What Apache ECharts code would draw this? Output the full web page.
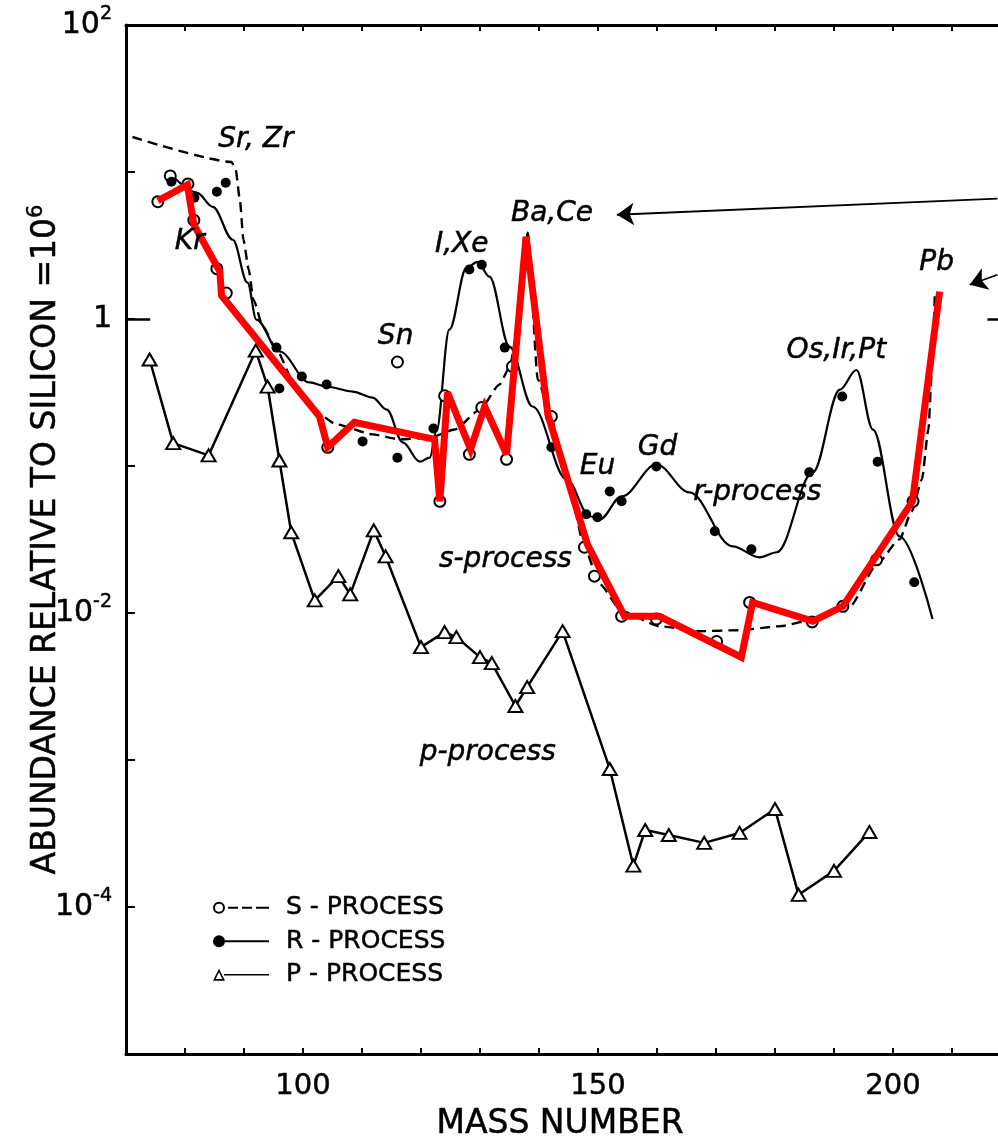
<!DOCTYPE html>
<html>
<head>
<meta charset="utf-8">
<script src="https://cdn.jsdelivr.net/npm/echarts@6/dist/echarts.min.js"></script>
<style>
  html, body { margin: 0; padding: 0; background: #fff; }
  #chart { width: 998px; height: 1141px; }
</style>
</head>
<body>
<div id="chart"></div>
<script>
// ---- s-process: measured abundances (open circles) ----
const sMass  = [75.4, 77.5, 80.5, 81.5, 85.4, 87.0, 104.2, 116.0, 123.2, 124.0, 128.2, 130.3, 134.5, 135.5, 142.1, 147.7, 149.4, 154.0, 159.9, 170.1, 175.7, 186.3, 191.5, 197.2, 203.4];
const sAbund = [6.28, 9.4, 8.3, 4.7, 2.2, 1.5, 0.134, 0.51, 0.0575, 0.30, 0.12, 0.25, 0.111, 0.475, 0.217, 0.028, 0.0178, 0.0095, 0.0091, 0.0064, 0.0118, 0.0087, 0.0111, 0.023, 0.0575];

// ---- s-process: calculated curve (dashed) ----
const sCurveMass  = [71.1, 87.9, 88.6, 89.3, 89.9, 90.8, 91.6, 93.2, 95.5, 98.6, 101.6, 105.7, 111.8, 116.4, 121.5, 125.7, 130.0, 133.3, 135.0, 136.4, 138.1, 139.8, 142.1, 145.2, 147.7, 150.3, 154.0, 160.4, 167.2, 174.0, 180.8, 187.6, 192.7, 197.3, 201.1, 203.2, 204.9, 206.0, 206.6, 207.1];
const sCurveAbund = [17.3, 11.7, 10.35, 6.47, 3.46, 2.17, 1.355, 0.888, 0.620, 0.358, 0.242, 0.192, 0.164, 0.152, 0.156, 0.177, 0.242, 0.358, 0.468, 0.847, 3.86, 0.388, 0.207, 0.0693, 0.028, 0.0157, 0.0103, 0.00813, 0.00752, 0.00764, 0.00813, 0.00922, 0.0111, 0.0215, 0.0317, 0.0492, 0.0811, 0.177, 0.453, 1.535];

// ---- r-process: measured abundances (filled dots) ----
const rMass  = [77.7, 81.6, 85.4, 86.9, 95.5, 96.0, 99.8, 104.0, 110.1, 116.0, 122.1, 128.2, 130.3, 134.2, 142.1, 148.0, 149.9, 152.0, 154.0, 159.9, 169.8, 176.0, 185.8, 191.4, 197.4, 203.6];
const rAbund = [8.58, 6.68, 7.34, 8.45, 0.639, 0.337, 0.406, 0.358, 0.147, 0.114, 0.180, 2.17, 2.34, 0.639, 0.134, 0.0469, 0.0448, 0.0672, 0.0575, 0.0994, 0.0360, 0.0271, 0.0905, 0.297, 0.107, 0.0162];

// ---- r-process: fitted curve (solid) ----
const rCurveMass  = [78.2, 82.0, 84.7, 88.1, 90.6, 92.1, 96.0, 101.1, 104.0, 108.4, 111.8, 114.2, 116.9, 119.8, 121.5, 122.6, 124.8, 127.7, 129.6, 131.6, 135.0, 138.9, 144.7, 148.6, 150.3, 154.0, 159.9, 165.5, 172.8, 177.4, 180.3, 186.4, 191.0, 193.8, 196.6, 201.1, 206.7];
const rCurveAbund = [9.14, 7.24, 5.80, 3.46, 1.77, 0.99, 0.601, 0.370, 0.347, 0.321, 0.292, 0.242, 0.145, 0.107, 0.114, 0.172, 0.847, 2.23, 2.45, 1.94, 0.649, 0.254, 0.0811, 0.0455, 0.0434, 0.0621, 0.1025, 0.0662, 0.0284, 0.0239, 0.0259, 0.0905, 0.331, 0.45, 0.177, 0.0332, 0.0091];

// ---- p-process (triangles joined by straight segments) ----
const pMass  = [74, 78, 84, 92, 94, 96, 98, 102, 106, 108, 112, 114, 120, 124, 126, 130, 132, 136, 138, 144, 152, 156, 158, 162, 168, 174, 180, 184, 190, 196];
const pAbund = [0.53, 0.143, 0.118, 0.61, 0.347, 0.109, 0.0354, 0.0122, 0.0178, 0.0134, 0.0365, 0.0243, 0.00586, 0.00741, 0.00685, 0.00501, 0.00456, 0.00233, 0.00313, 0.00752, 0.000869, 0.000191, 0.000334, 0.000309, 0.000273, 0.000319, 0.000464, 0.000121, 0.000176, 0.000324];

// ---- red overlay trace ----
const redMass  = [75.4, 80.4, 81.5, 85.9, 86.2, 102.8, 104.2, 108.7, 122.3, 123.2, 124.5, 128.4, 130.8, 134.5, 137.8, 141.5, 148.2, 154.5, 160.4, 174.3, 176.2, 186.4, 191.5, 203.3, 207.9];
const redAbund = [6.37, 8.18, 4.38, 2.10, 1.44, 0.217, 0.134, 0.198, 0.152, 0.0575, 0.316, 0.130, 0.254, 0.120, 3.63, 0.224, 0.0293, 0.0095, 0.0095, 0.0050, 0.0118, 0.0088, 0.0111, 0.0575, 1.535];

// ---- text annotations (anchored in data space) ----
const annoText  = ['Sr, Zr', 'Kr', 'Sn', 'I,Xe', 'Ba,Ce', 'Eu', 'Gd', 'r-process', 'Os,Ir,Pt', 'Pb', 's-process', 'p-process'];
const annoMass  = [92.0, 80.8, 115.7, 126.9, 142.2, 149.9, 160.1, 177.0, 190.4, 207.4, 134.3, 131.3];
const annoAbund = [16.5, 3.36, 0.759, 3.20, 5.20, 0.0994, 0.134, 0.0662, 0.610, 2.42, 0.0232, 0.00112];

// ---- arrows pointing at the closed-shell peaks ----
const arrowFromMass  = [217.7, 217.7];
const arrowFromAbund = [6.58, 2.00];
const arrowToMass    = [153.2, 213.0];
const arrowToAbund   = [5.12, 1.71];

// ---- axes ----
const xMin = 70, xMax = 220, xStep = 10;
const xLabelled = [100, 150, 200];
const yMin = 1e-5, yMax = 1e2;
const yLabelExp  = [2, 0, -2, -4];
const yLabelText = ['10{sup|2}', '1', '10{sup|-2}', '10{sup|-4}'];

const legendNames = ['S - PROCESS', 'R - PROCESS', 'P - PROCESS'];

const FONT = 'DejaVu Sans';
const INK = { color: '#000', textBorderColor: '#000', textBorderWidth: 0.5 };
const pairs = (xs, ys) => xs.map((x, i) => [x, ys[i]]);

// legend glyphs: marker at the left end of a short line
const iconS = 'path://M0,6A6,6 0 1,1 12,6A6,6 0 1,1 0,6Z M2,6A4,4 0 1,0 10,6A4,4 0 1,0 2,6Z M15,5H25V7H15Z M29,5H39V7H29Z M43,5H56V7H43Z';
const iconR = 'path://M0,6A6,6 0 1,1 12,6A6,6 0 1,1 0,6Z M11,5H56V7H11Z';
const iconP = 'path://M6,0L12,12L0,12Z M6,3.6L2.6,10.3L9.4,10.3Z M11,5.2H56V6.8H11Z';

const chart = echarts.init(document.getElementById('chart'), null, { renderer: 'canvas' });

const supRich = (size, lh) => ({ sup: Object.assign({ fontFamily: FONT, fontSize: size, lineHeight: lh, verticalAlign: 'top' }, INK) });

const option = {
  animation: false,
  backgroundColor: '#fff',
  title: {
    text: 'MASS NUMBER',
    left: 555,
    top: 1103,
    textAlign: 'center',
    textStyle: Object.assign({ fontFamily: FONT, fontSize: 33, fontWeight: 'normal' }, INK)
  },
  legend: {
    orient: 'vertical',
    left: 213,
    top: 895,
    padding: 0,
    itemWidth: 56,
    itemHeight: 12,
    itemGap: 8,
    selectedMode: false,
    textStyle: Object.assign({ fontFamily: FONT, fontSize: 25, lineHeight: 25, padding: [0, 0, 0, 12] }, INK),
    data: [
      { name: legendNames[0], icon: iconS, itemStyle: { color: '#000', borderWidth: 0, opacity: 1 } },
      { name: legendNames[1], icon: iconR, itemStyle: { color: '#000', borderWidth: 0, opacity: 1 } },
      { name: legendNames[2], icon: iconP, itemStyle: { color: '#000', borderWidth: 0, opacity: 1 } }
    ]
  },
  grid: { left: 126, top: 25, width: 885, height: 1029, containLabel: false, outerBoundsMode: 'none' },
  xAxis: [
    {
      type: 'value', position: 'bottom', min: xMin, max: xMax, interval: xStep,
      axisLine: { onZero: false, lineStyle: { color: '#000', width: 3 } },
      axisTick: { inside: true, length: 6, lineStyle: { color: '#000', width: 2 } },
      axisLabel: Object.assign({
        margin: 18, fontFamily: FONT, fontSize: 29,
        formatter: v => (xLabelled.indexOf(v) >= 0 ? String(v) : '')
      }, INK),
      splitLine: { show: false }
    },
    {
      type: 'value', position: 'top', min: xMin, max: xMax, interval: xStep,
      axisLine: { onZero: false, lineStyle: { color: '#000', width: 3 } },
      axisTick: { inside: true, length: 6, lineStyle: { color: '#000', width: 2 } },
      axisLabel: { show: false },
      splitLine: { show: false }
    }
  ],
  yAxis: [
    {
      type: 'log', logBase: 10, position: 'left', min: yMin, max: yMax,
      name: 'ABUNDANCE RELATIVE TO SILICON =10{sup|6}',
      nameLocation: 'middle',
      nameGap: 60,
      nameMoveOverlap: false,
      nameTextStyle: Object.assign({ fontFamily: FONT, fontSize: 33, lineHeight: 40, rich: supRich(21, 22) }, INK),
      axisLine: { onZero: false, lineStyle: { color: '#000', width: 3 } },
      axisTick: { inside: true, length: 9, lineStyle: { color: '#000', width: 2 } },
      axisLabel: Object.assign({
        margin: 14, fontFamily: FONT, fontSize: 30, lineHeight: 40,
        rich: supRich(19, 20),
        formatter: v => {
          const i = yLabelExp.indexOf(Math.round(Math.log10(v)));
          return i >= 0 ? yLabelText[i] : '';
        }
      }, INK),
      splitLine: { show: false }
    },
    {
      type: 'log', logBase: 10, position: 'right', min: yMin, max: yMax,
      axisLine: { onZero: false, lineStyle: { color: '#000', width: 3 } },
      axisTick: { inside: true, length: 9, lineStyle: { color: '#000', width: 2 } },
      axisLabel: { show: false },
      splitLine: { show: false }
    }
  ],
  series: [
    {
      name: 's-process curve',
      type: 'line',
      data: pairs(sCurveMass, sCurveAbund),
      smooth: 0.2, smoothMonotone: 'x', showSymbol: false, symbol: 'none',
      lineStyle: { color: '#000', width: 2.4, type: [10, 6] },
      z: 2, silent: true
    },
    {
      name: 'r-process curve',
      type: 'line',
      data: pairs(rCurveMass, rCurveAbund),
      smooth: 0.35, smoothMonotone: 'x', showSymbol: false, symbol: 'none',
      lineStyle: { color: '#000', width: 2.2 },
      z: 2, silent: true
    },
    {
      name: legendNames[0],
      type: 'scatter',
      data: pairs(sMass, sAbund),
      symbol: 'circle', symbolSize: 11,
      itemStyle: { color: '#fff', borderColor: '#000', borderWidth: 2, opacity: 1 },
      z: 4, silent: true
    },
    {
      name: legendNames[1],
      type: 'scatter',
      data: pairs(rMass, rAbund),
      symbol: 'circle', symbolSize: 10,
      itemStyle: { color: '#000', opacity: 1 },
      z: 4, silent: true,
      markLine: {
        silent: true, symbol: 'none', animation: false,
        label: { show: false },
        lineStyle: { color: '#000', width: 2.5, type: 'solid', opacity: 1 },
        data: [
          [{ coord: [xMin, 1] }, { coord: [74.1, 1] }],
          [{ coord: [216, 1] }, { coord: [xMax, 1] }]
        ]
      }
    },
    {
      name: legendNames[2],
      type: 'line',
      data: pairs(pMass, pAbund),
      symbol: 'triangle', symbolSize: [14, 12], showAllSymbol: true,
      itemStyle: { color: '#fff', borderColor: '#000', borderWidth: 2 },
      lineStyle: { color: '#000', width: 2.5 },
      z: 4, silent: true
    },
    {
      name: 'red trace',
      type: 'line',
      data: pairs(redMass, redAbund),
      showSymbol: false, symbol: 'none',
      lineStyle: { color: '#ff0000', width: 7, join: 'miter', miterLimit: 3, cap: 'butt' },
      z: 6, silent: true
    },
    {
      name: 'annotations',
      type: 'scatter',
      data: annoText.map((t, i) => ({ name: t, value: [annoMass[i], annoAbund[i]] })),
      symbolSize: 2,
      itemStyle: { color: 'rgba(0,0,0,0)', opacity: 1 },
      label: Object.assign({
        show: true, position: 'inside', formatter: '{b}',
        fontFamily: FONT, fontStyle: 'italic', fontSize: 28, opacity: 1
      }, INK),
      labelLayout: { hideOverlap: false },
      z: 7, silent: true,
      markLine: {
        silent: true, animation: false,
        symbol: ['none', 'arrow'], symbolSize: 17,
        label: { show: false },
        lineStyle: { color: '#000', width: 1.8, type: 'solid', opacity: 1 },
        data: arrowFromMass.map((m, i) => [
          { coord: [m, arrowFromAbund[i]] },
          { coord: [arrowToMass[i], arrowToAbund[i]] }
        ])
      }
    }
  ]
};

chart.setOption(option);
</script>
</body>
</html>
